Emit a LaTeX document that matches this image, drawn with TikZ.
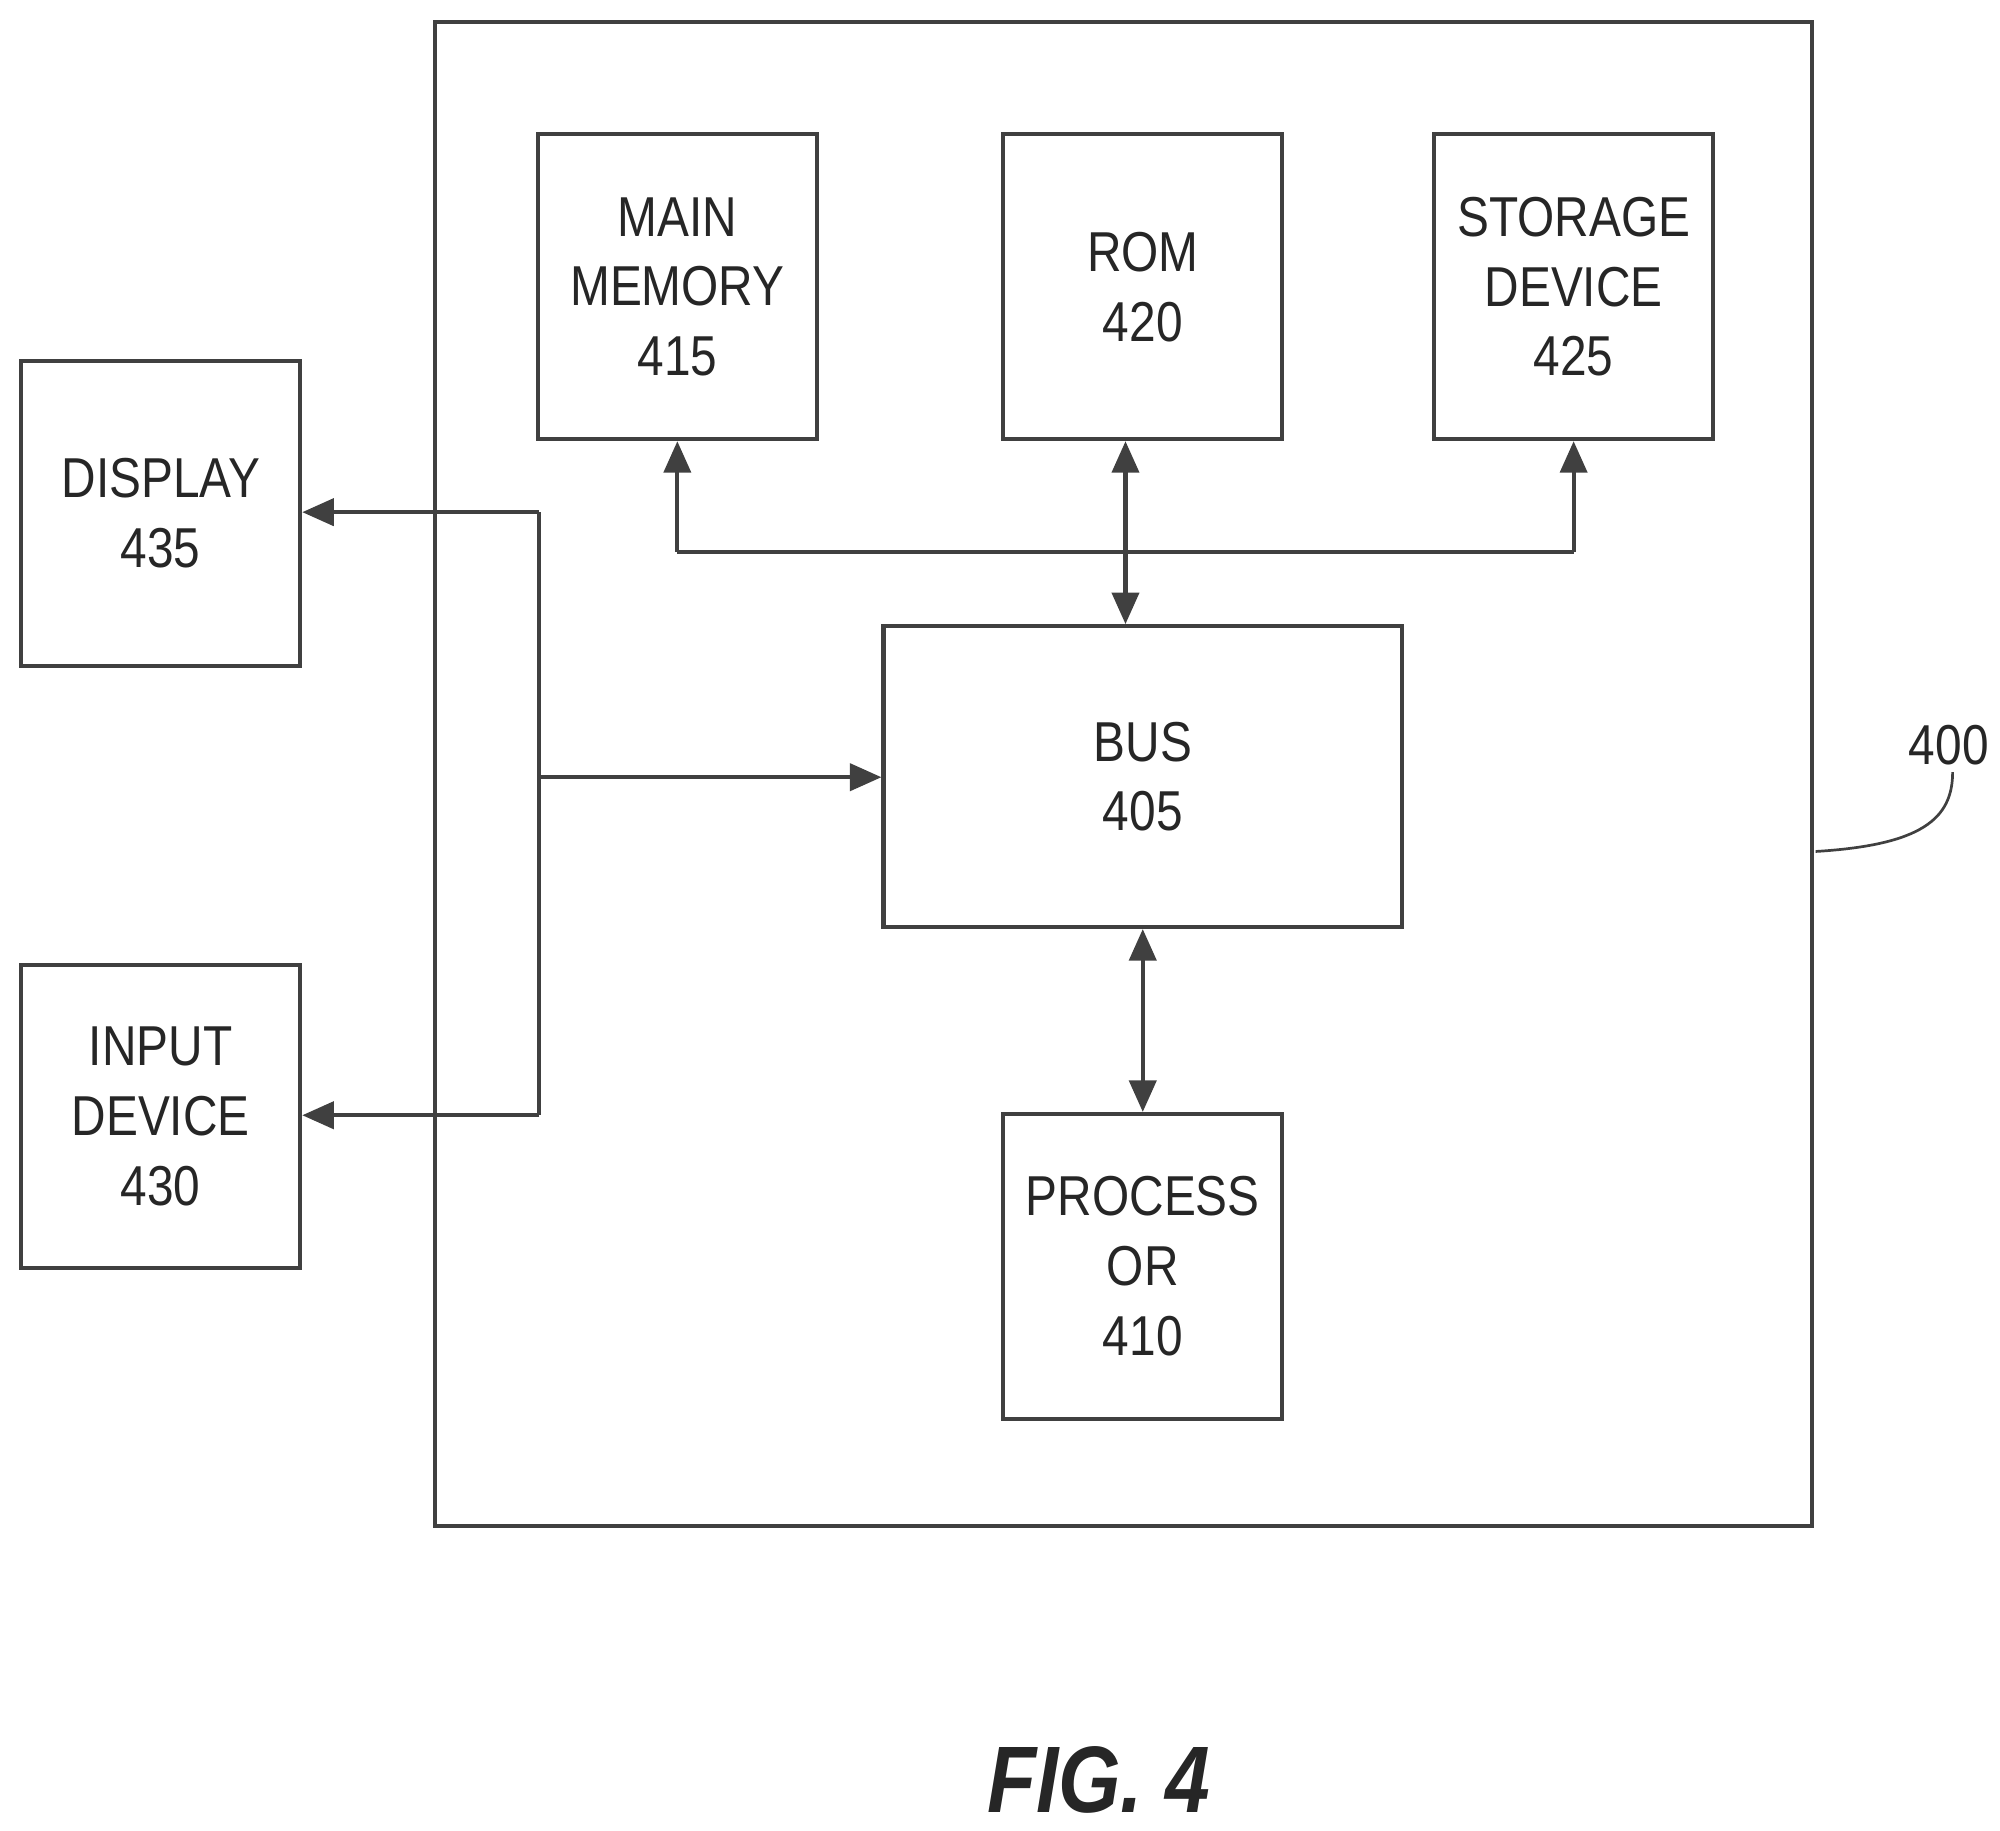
\documentclass[tikz,border=0pt]{standalone}
\usepackage{fontspec}
\setmainfont{Liberation Sans}[FakeStretch=0.85]
\usetikzlibrary{arrows.meta}
\begin{document}
\begin{tikzpicture}[x=0.02cm,y=-0.02cm,
  box/.style={draw=black!75,line width=1.8pt,inner sep=0pt,align=center,
    font=\fontsize{25}{31}\selectfont,text=black!85},
  ln/.style={draw=black!75,line width=1.8pt},
  tip/.style={-{Triangle[length=14pt,width=12pt]}},
  dtip/.style={{Triangle[length=14pt,width=12pt]}-{Triangle[length=14pt,width=12pt]}}]
\useasboundingbox (0,0) rectangle (1562,1430);
\node[box,minimum width=1075*0.02cm,minimum height=1175*0.02cm] (outer) at (877.5,604.5) {};
\newcommand{\bx}[5]{\node[box,minimum width=#4*0.02cm,minimum height=#5*0.02cm] (#1) at (#2,#3)}
\bx{mm}{529}{224}{218}{238} {MAIN\\MEMORY\\415};
\bx{rom}{892.5}{224}{218}{238} {ROM\\420};
\bx{sto}{1229}{224}{218}{238} {STORAGE\\DEVICE\\425};
\bx{disp}{125.5}{401}{218}{238} {DISPLAY\\435};
\bx{inp}{125.5}{872}{218}{236} {INPUT\\DEVICE\\430};
\bx{bus}{892.5}{606.5}{405}{235} {BUS\\405};
\bx{proc}{892.5}{989}{218}{238} {PROCESS\\OR\\410};
\coordinate (bl) at (529,431);
\coordinate (br) at (1229,431);
\coordinate (vt) at (421,400);
\coordinate (vb) at (421,871);
\coordinate (vm) at (421,607);
\draw[ln,tip] (bl) -- (mm.south);
\draw[ln,tip] (br) -- (sto.south);
\draw[ln] (bl) -- (br);
\draw[ln,dtip] (rom.south -| 879,0) -- (bus.north -| 879,0);
\draw[ln,dtip] (bus.south) -- (proc.north);
\draw[ln,tip] (vt) -- (disp.east |- vt);
\draw[ln,tip] (vb) -- (inp.east |- vb);
\draw[ln] (vt) -- (vb);
\draw[ln,tip] (vm) -- (bus.west |- vm);
\node[font=\fontsize{25}{28}\selectfont,text=black!85] (lbl) at (1522,582) {400};
\draw[ln,line width=1.2pt] (1418,665) .. controls (1500,660) and (1525,640) .. (1525,603);
\node[font=\fontsize{42}{44}\selectfont\bfseries\itshape,text=black!85] (fig) at (858,1390) {FIG. 4};
\end{tikzpicture}
\end{document}
